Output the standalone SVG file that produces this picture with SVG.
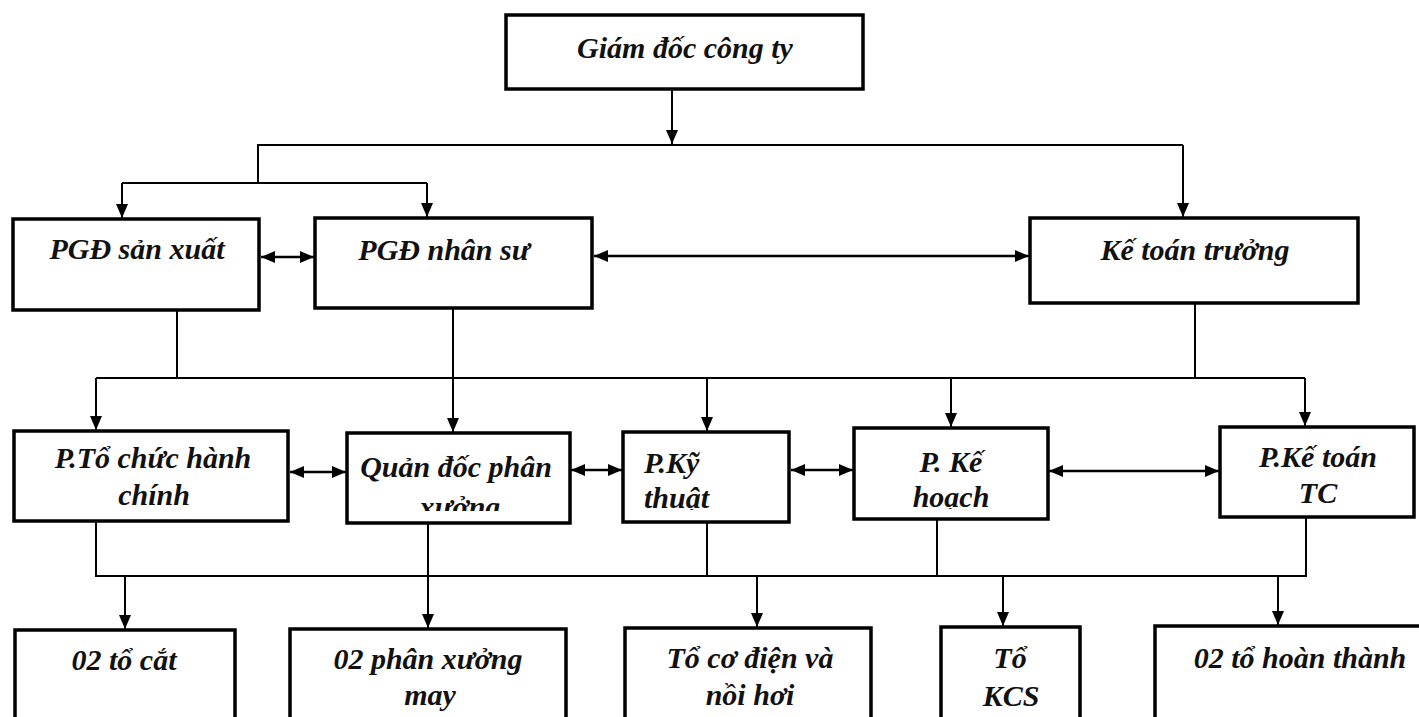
<svg xmlns="http://www.w3.org/2000/svg" width="1419" height="717" viewBox="0 0 1419 717">
<style>
.box{fill:#fff;stroke:#000;stroke-width:3.5}
.t{font-family:'Liberation Serif','Times New Roman',serif;font-weight:bold;font-style:italic;font-size:30px;fill:#111;text-anchor:middle}
.s{text-anchor:start}
.c{fill:none;stroke:#000;stroke-width:2}
.b{fill:none;stroke:#000;stroke-width:2.5}
</style>
<defs>
<marker id="ah" viewBox="0 0 14 12" refX="14" refY="6" markerWidth="14" markerHeight="12" markerUnits="userSpaceOnUse" orient="auto-start-reverse">
<path d="M0,0 L14,6 L0,12 Z" fill="#000"/>
</marker>
<clipPath id="clipQD"><rect x="347" y="433" width="225" height="78"/></clipPath>
<clipPath id="clipKT"><rect x="623" y="432" width="166" height="78"/></clipPath>
<clipPath id="clipKH"><rect x="854" y="428" width="194" height="81"/></clipPath>
</defs>
<rect width="1419" height="717" fill="#fff"/>

<g id="giam-doc">
<rect class="box" x="506" y="15" width="357" height="74"/>
<text class="t" x="685" y="58">Giám đốc công ty</text>
</g>
<g id="pgd-san-xuat">
<rect class="box" x="13" y="219" width="246" height="91"/>
<text class="t" x="137" y="259">PGĐ sản xuất</text>
</g>
<g id="pgd-nhan-su">
<rect class="box" x="315" y="218" width="277" height="90"/>
<text class="t" x="444" y="260">PGĐ nhân sư</text>
</g>
<g id="ke-toan-truong">
<rect class="box" x="1030" y="218" width="328" height="85"/>
<text class="t" x="1195" y="260">Kế toán trưởng</text>
</g>
<g id="p-to-chuc">
<rect class="box" x="14" y="431" width="274" height="90"/>
<text class="t" x="153" y="468">P.Tổ chức hành</text>
<text class="t" x="154" y="505">chính</text>
</g>
<g id="quan-doc">
<rect class="box" x="347" y="433" width="223" height="90"/>
<text class="t" x="456" y="477">Quản đốc phân</text>
<text class="t" x="460" y="517" clip-path="url(#clipQD)">xưởng</text>
</g>
<g id="p-ky-thuat">
<rect class="box" x="623" y="432" width="166" height="90"/>
<text class="t s" x="644" y="473">P.Kỹ</text>
<text class="t s" x="644" y="508" clip-path="url(#clipKT)">thuật</text>
</g>
<g id="p-ke-hoach">
<rect class="box" x="854" y="428" width="194" height="91"/>
<text class="t" x="951" y="472">P. Kế</text>
<text class="t" x="951" y="507" clip-path="url(#clipKH)">hoạch</text>
</g>
<g id="p-ke-toan-tc">
<rect class="box" x="1220" y="427" width="194" height="90"/>
<text class="t" x="1318" y="467">P.Kế toán</text>
<text class="t" x="1318" y="503">TC</text>
</g>
<g id="to-cat">
<rect class="box" x="15" y="630" width="220" height="110"/>
<text class="t" x="124" y="670">02 tổ cắt</text>
</g>
<g id="phan-xuong-may">
<rect class="box" x="290" y="629" width="276" height="110"/>
<text class="t" x="428" y="669">02 phân xưởng</text>
<text class="t" x="430" y="705">may</text>
</g>
<g id="to-co-dien">
<rect class="box" x="625" y="628" width="246" height="110"/>
<text class="t" x="750" y="668">Tổ cơ điện và</text>
<text class="t" x="750" y="705">nồi hơi</text>
</g>
<g id="to-kcs">
<rect class="box" x="941" y="627" width="139" height="110"/>
<text class="t" x="1010" y="668">Tổ</text>
<text class="t" x="1011" y="706">KCS</text>
</g>
<g id="to-hoan-thanh">
<rect class="box" x="1155" y="626" width="290" height="110"/>
<text class="t" x="1300" y="668">02 tổ hoàn thành</text>
</g>

<g id="connectors">
<line class="c" x1="672" y1="89" x2="672" y2="144" marker-end="url(#ah)"/>
<polyline class="c" points="258,183 258,145 1183,145"/>
<line class="c" x1="1183" y1="145" x2="1183" y2="217" marker-end="url(#ah)"/>
<line class="c" x1="122" y1="183" x2="427" y2="183"/>
<line class="c" x1="122" y1="183" x2="122" y2="218" marker-end="url(#ah)"/>
<line class="c" x1="427" y1="183" x2="427" y2="217" marker-end="url(#ah)"/>
<line class="b" x1="261" y1="257" x2="314" y2="257" marker-start="url(#ah)" marker-end="url(#ah)"/>
<line class="b" x1="594" y1="256" x2="1029" y2="256" marker-start="url(#ah)" marker-end="url(#ah)"/>
<line class="c" x1="177" y1="310" x2="177" y2="378"/>
<line class="c" x1="96" y1="378" x2="1305" y2="378"/>
<line class="c" x1="1195" y1="303" x2="1195" y2="378"/>
<line class="c" x1="96" y1="378" x2="96" y2="430" marker-end="url(#ah)"/>
<line class="c" x1="453" y1="308" x2="453" y2="432" marker-end="url(#ah)"/>
<line class="c" x1="707" y1="378" x2="707" y2="431" marker-end="url(#ah)"/>
<line class="c" x1="951" y1="378" x2="951" y2="427" marker-end="url(#ah)"/>
<line class="c" x1="1305" y1="378" x2="1305" y2="426" marker-end="url(#ah)"/>
<line class="b" x1="290" y1="472" x2="346" y2="472" marker-start="url(#ah)" marker-end="url(#ah)"/>
<line class="b" x1="571" y1="470" x2="622" y2="470" marker-start="url(#ah)" marker-end="url(#ah)"/>
<line class="b" x1="791" y1="470" x2="853" y2="470" marker-start="url(#ah)" marker-end="url(#ah)"/>
<line class="b" x1="1049" y1="471" x2="1219" y2="471" marker-start="url(#ah)" marker-end="url(#ah)"/>
<polyline class="c" points="96,521 96,576 1306,576 1306,517"/>
<line class="c" x1="428" y1="523" x2="428" y2="628" marker-end="url(#ah)"/>
<line class="c" x1="707" y1="522" x2="707" y2="576"/>
<line class="c" x1="937" y1="519" x2="937" y2="576"/>
<line class="c" x1="125" y1="576" x2="125" y2="629" marker-end="url(#ah)"/>
<line class="c" x1="757" y1="576" x2="757" y2="627" marker-end="url(#ah)"/>
<line class="c" x1="1003" y1="576" x2="1003" y2="626" marker-end="url(#ah)"/>
<line class="c" x1="1278" y1="576" x2="1278" y2="625" marker-end="url(#ah)"/>
</g>
</svg>
